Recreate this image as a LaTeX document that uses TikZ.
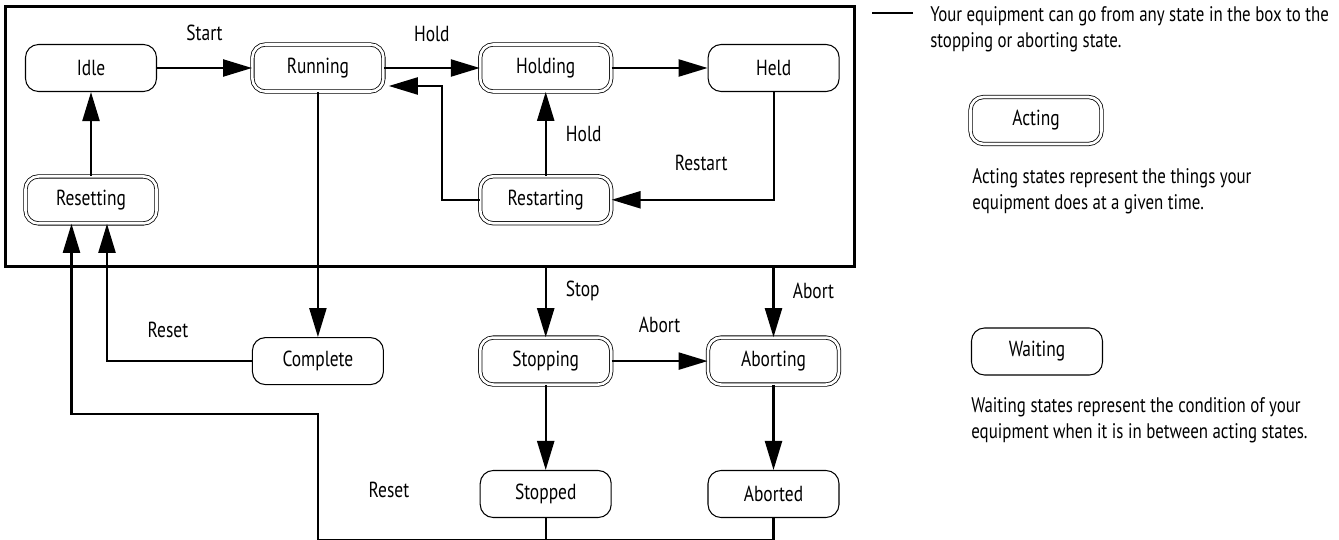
\documentclass[tikz,border=0pt]{standalone}
\usepackage{fontspec}
\setmainfont{PT Sans}[FakeStretch=0.8]
\usetikzlibrary{arrows.meta, positioning, calc, fit}

\begin{document}
\begin{tikzpicture}[
    node distance=1.92cm,
    waitstate/.style={draw, rounded corners=0.26cm, line width=0.6pt,
                      minimum width=2.62cm, minimum height=0.94cm,
                      font=\fontsize{12.4}{14.75}\selectfont},
    actstate/.style={waitstate, double, double distance=1.5pt,
                     line width=0.45pt},
    conn/.style={line width=1.3pt, -{Triangle[length=0.58cm, width=0.34cm]}},
    plain/.style={line width=1.3pt},
    lbl/.style={inner sep=0pt, font=\fontsize{12.4}{14.75}\selectfont},
    note/.style={inner sep=0pt, align=left,
                 font=\fontsize{12}{14.75}\selectfont},
    boxline/.style={line width=1.7pt}
  ]
  \useasboundingbox (0,0) rectangle (26.78,-10.8);

  % states
  \node[waitstate] (idle) at (1.82,-1.36) {Idle};
  \node[actstate, right=1.9cm of idle] (running) {Running};
  \node[actstate, right=of running] (holding) {Holding};
  \node[waitstate, right=of holding] (held) {Held};
  \node[actstate, below=1.68cm of idle] (resetting) {Resetting};
  \node[actstate, below=1.68cm of holding] (restarting) {Restarting};
  \node[actstate, below=2.27cm of restarting] (stopping) {Stopping};
  \node[actstate, right=of stopping] (aborting) {Aborting};
  \node[waitstate] (complete) at (running |- stopping) {Complete};
  \node[waitstate, below=1.7cm of stopping] (stopped) {Stopped};
  \node[waitstate, below=1.7cm of aborting] (aborted) {Aborted};

  % box round the states that can be stopped or aborted
  \coordinate (bxa) at ($(idle.north west)+(-0.38,0.74)$);
  \coordinate (bxb) at ($(held.east |- resetting.south)+(0.3,-0.86)$);
  \node[boxline, draw, fit=(bxa)(bxb), inner sep=0pt] (statebox) {};

  % transitions
  \draw[conn] (idle) -- node[lbl, yshift=0.7cm] {Start} (running);
  \draw[conn] (running) -- node[lbl, yshift=0.68cm] {Hold} (holding);
  \draw[conn] (holding) -- (held);
  \draw[conn] (held.south) |- node[lbl, pos=0.75, xshift=0.17cm, yshift=0.74cm] {Restart}
    (restarting.east);
  \draw[conn] (restarting) -- node[lbl, xshift=0.76cm] {Hold} (holding);
  \draw[conn] (restarting.west) -- ++(-0.76,0)
    |- ([xshift=0.1cm, yshift=-0.36cm]running.east);
  \draw[conn] (resetting) -- (idle);
  \draw[conn] (running) -- (complete);
  \draw[conn] (complete.west) -| node[lbl, pos=0.25, xshift=-0.23cm, yshift=0.62cm] {Reset}
    ([xshift=0.32cm]resetting.south);
  \draw[conn] (statebox.south -| stopping) -- node[lbl, xshift=0.74cm, yshift=0.24cm] {Stop}
    (stopping);
  \draw[conn] (statebox.south -| aborting) -- node[lbl, xshift=0.8cm, yshift=0.24cm] {Abort}
    (aborting);
  \draw[conn] (stopping) -- node[lbl, yshift=0.72cm] {Abort} (aborting);
  \draw[conn] (stopping) -- (stopped);
  \draw[conn] (aborting) -- (aborted);

  % reset from the final states
  \coordinate (rstlow) at ($(stopped.south)+(0,-0.44)$);
  \coordinate (rstmid) at ($(complete.south)+(0,-0.58)$);
  \coordinate (rsttip) at ([xshift=-0.39cm]resetting.south);
  \draw[plain] (stopped.south) -- (stopped.south |- rstlow);
  \draw[conn] (aborted.south) |- (complete |- rstlow) |- (rsttip |- rstmid) -- (rsttip);
  \node[lbl] (rstlbl) at ($(complete |- rstlow)+(1.42,1.0)$) {Reset};

  % legend
  \node[note, anchor=north west] (boxnote) at (18.6,-0.12)
    {Your equipment can go from any state in the box to the\\stopping or aborting state.};
  \draw[boxline] ([xshift=-0.34cm, yshift=-0.14cm]boxnote.north west) -- ++(-0.82,0);
  \node[actstate] (acting) at (20.72,-2.41) {Acting};
  \node[note, anchor=north west] (actnote)
    at ([xshift=0.04cm, yshift=-0.48cm]acting.south west)
    {Acting states represent the things your\\equipment does at a given time.};
  \node[waitstate] (waiting) at (20.74,-7.03) {Waiting};
  \node[note, anchor=north west] (waitnote) at ([yshift=-0.44cm]waiting.south west)
    {Waiting states represent the condition of your\\equipment when it is in between acting states.};
\end{tikzpicture}
\end{document}
